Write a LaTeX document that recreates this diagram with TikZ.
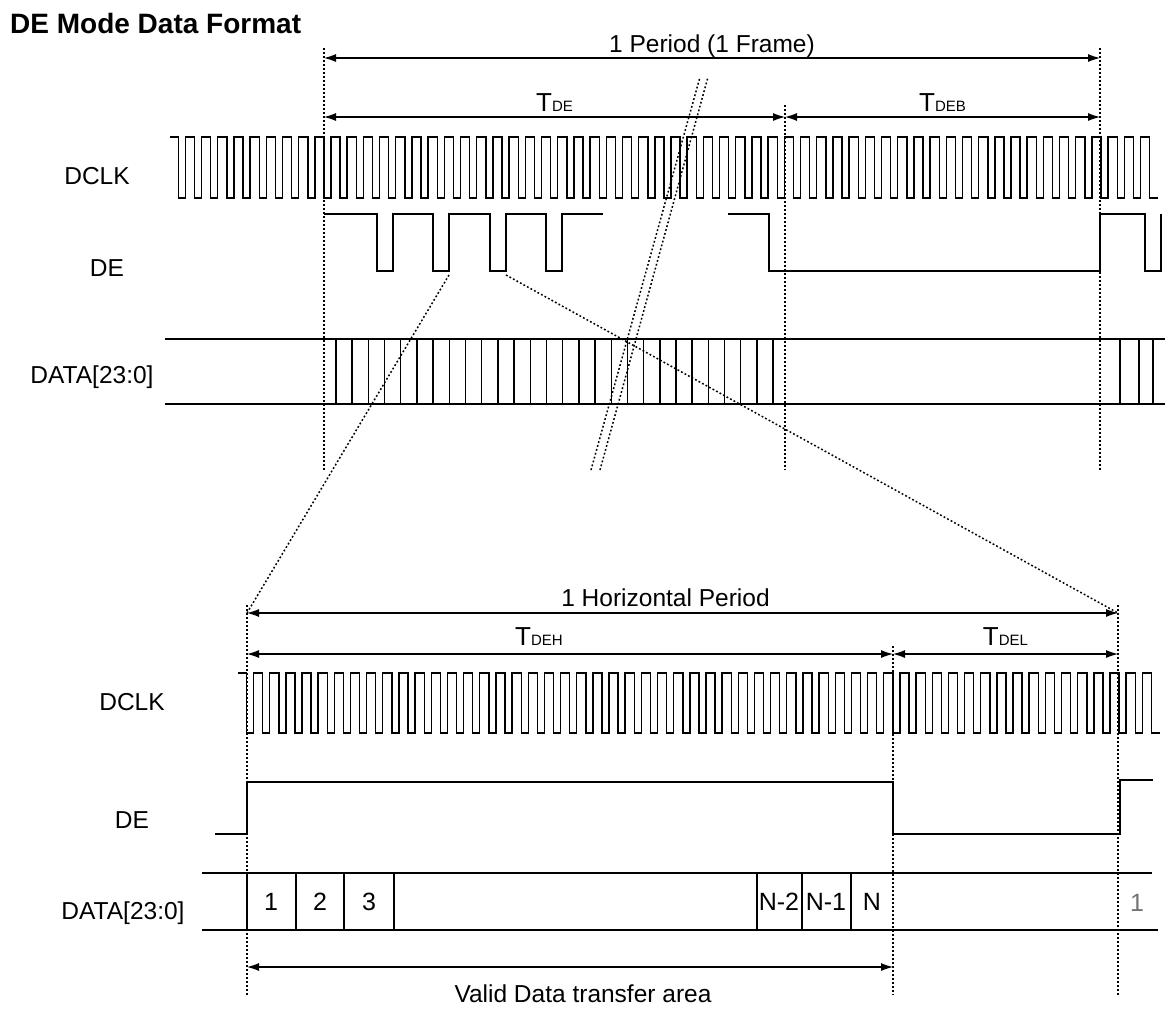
\documentclass[tikz,border=0pt]{standalone}
\usepackage{fontspec}
\setmainfont{Liberation Sans}
\usetikzlibrary{arrows.meta}

\newcommand{\tsub}[2]{#1{\fontsize{15}{15}\selectfont #2}}

\begin{document}
\begin{tikzpicture}[x=1pt,y=-1pt,
    sig/.style={line width=1.4pt},
    guide/.style={line width=1.5pt,dash pattern=on 1.8pt off 2.2pt},
    dim/.style={{Latex[length=12pt,width=8pt]}-{Latex[length=12pt,width=8pt]},line width=1.1pt},
    lbl/.style={font=\fontsize{24.5}{28}\selectfont,inner sep=0pt,text height=17.5pt,text depth=0pt},
    tlbl/.style={font=\fontsize{26}{28}\selectfont,inner sep=0pt,text height=18.6pt,text depth=0pt}]
  \useasboundingbox (0,0) rectangle (1165,1010);

  \node[anchor=west,inner sep=0pt,font=\bfseries\fontsize{28}{32}\selectfont] (title) at (10,23) {DE Mode Data Format};

  % frame timing
  \coordinate (fs) at (324,58);  \coordinate (fe) at (1100,58);
  \coordinate (ds) at (324,117); \coordinate (dm) at (785,117); \coordinate (de) at (1100,117);
  \draw[guide] (324,48) -- (324,470) (785,105) -- (785,470) (1100,48) -- (1100,470);
  \draw[dim] (fs) -- node[lbl,above=5pt] (frame) {1 Period (1 Frame)} (fe);
  \draw[dim] (ds) -- node[tlbl,above=5pt] (tde) {\tsub{T}{DE}} (dm);
  \draw[dim] (dm) -- node[tlbl,above=5pt] (tdeb) {\tsub{T}{DEB}} (de);

  \node[lbl] (clkA) at (97,176) {DCLK};
  \node[lbl] (deA) at (107,268) {DE};
  \node[lbl] (dataA) at (92,375) {DATA[23:0]};

  \draw[sig] (170,137) foreach \k in {-9,...,50} {
      -- ({324+16.19*\k},137) -- ({324+16.19*\k},198)
      -- ({331+16.19*\k},198) -- ({331+16.19*\k},137)}
    -- (1149.7,137) -- (1149.7,198) -- (1158,198);

  \draw[sig] (324,214) foreach \s in {377,433,490,546} {
      -- (\s,214) -- (\s,271) -- ({\s+16},271) -- ({\s+16},214)} -- (603,214);
  \draw[sig] (728,214) -- (769,214) -- (769,271) -- (1100,271) -- (1100,214)
    -- (1145,214) -- (1145,271) -- (1161,271) -- (1161,214);

  \draw[sig] (165,339) -- (1165,339) (165,404) -- (1165,404);
  \foreach \k in {0,...,27}
    \draw[sig] ({336+16.19*\k},339) -- ++(0,65);
  \foreach \x in {1120,1139,1153}
    \draw[sig] (\x,339) -- ++(0,65);

  % zoom lines and break
  \coordinate (zl) at (449,275); \coordinate (zr) at (506,275);
  \coordinate (hs) at (247,613); \coordinate (he) at (1118,613);
  \draw[guide] (zl) -- (hs) (zr) -- (he);
  \draw[guide] (591,470) -- (700,77) (600,470) -- (708,77);

  % line timing
  \coordinate (ls) at (247,654); \coordinate (lm) at (893,654); \coordinate (le) at (1118,654);
  \coordinate (vs) at (247,967); \coordinate (ve) at (893,967);
  \draw[guide] (247,605) -- (247,995) (893,646) -- (893,995) (1118,605) -- (1118,995);
  \draw[dim] (hs) -- node[lbl,above=6pt,xshift=-17pt] (hper) {1 Horizontal Period} (he);
  \draw[dim] (ls) -- node[tlbl,above=8pt,xshift=-31pt] (tdeh) {\tsub{T}{DEH}} (lm);
  \draw[dim] (lm) -- node[tlbl,above=8pt] (tdel) {\tsub{T}{DEL}} (le);
  \draw[dim] (vs) -- node[lbl,below=17pt,xshift=13pt] (valid) {Valid Data transfer area} (ve);

  \node[lbl] (clkB) at (132,702) {DCLK};
  \node[lbl] (deB) at (132,820) {DE};
  \node[lbl] (dataB) at (123,911) {DATA[23:0]};

  \draw[sig] (238,673) foreach \k in {0,...,55} {
      -- ({246.5+16.16*\k},673) -- ({246.5+16.16*\k},733)
      -- ({253.5+16.16*\k},733) -- ({253.5+16.16*\k},673)}
    -- (1151.5,673) -- (1151.5,733) -- (1160,733);

  \draw[sig] (215,834) -- (247,834) -- (247,782) -- (893,782) -- (893,834)
    -- (1120,834) -- (1120,780) -- (1153,780);

  \draw[sig] (202,873) -- (1152,873) (202,930) -- (1158,930);
  \foreach \x in {247,296,344,394,757,802,851}
    \draw[sig] (\x,873) -- (\x,930);
  \foreach \x/\t/\n in {271/1/c1,320/2/c2,369/3/c3,779/N-2/cn2,826/N-1/cn1,872/N/cn}
    \node[lbl,font=\fontsize{25}{28}\selectfont] (\n) at (\x,902) {\t};
  \node[lbl,font=\fontsize{25}{28}\selectfont,text=black!55] (cnext) at (1137,903) {1};
\end{tikzpicture}
\end{document}
